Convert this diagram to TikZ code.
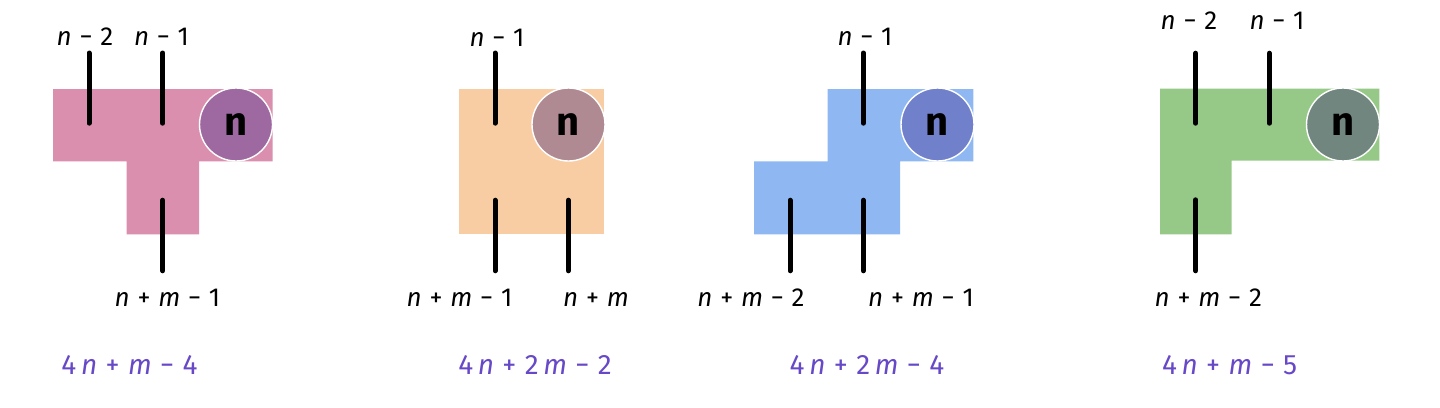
\documentclass[tikz,border=0pt]{standalone}
\usepackage{fontspec}
\setmainfont{Fira Sans}
\usetikzlibrary{positioning}
\definecolor{pinkcell}{RGB}{219,143,174}
\definecolor{pinkdot}{RGB}{158,104,160}
\definecolor{orangecell}{RGB}{248,205,164}
\definecolor{orangedot}{RGB}{176,138,147}
\definecolor{bluecell}{RGB}{143,184,243}
\definecolor{bluedot}{RGB}{112,128,202}
\definecolor{greencell}{RGB}{150,201,135}
\definecolor{greendot}{RGB}{113,134,127}
\definecolor{formula}{RGB}{103,72,199}
\tikzset{
    mycirc/.style = {circle, draw=white, line width=0.7pt, minimum size=36.5pt, inner sep=0pt, font=\bfseries\fontsize{20}{20}\selectfont, text=black},
    mycircp/.style = {mycirc, fill=pinkdot},
    mycirco/.style = {mycirc, fill=orangedot},
    mycircb/.style = {mycirc, fill=bluedot},
    mycircg/.style = {mycirc, fill=greendot},
    edgen/.style = {-, line width=2.5pt, black, line cap=round},
    mylabel/.style = {anchor=base, inner sep=0pt, font=\fontsize{13}{13}\selectfont},
    myformula/.style = {anchor=base, inner sep=0pt, text=formula, font=\fontsize{14}{14}\selectfont}
}
\newcommand{\vn}{\textit{n}}
\newcommand{\vm}{\textit{m}}
\newcommand{\op}[1]{\hspace{0.3em}#1\hspace{0.3em}}

\begin{document}
\begin{tikzpicture}[x=0.5pt, y=-0.5pt]
\path[use as bounding box] (0,0) rectangle (1440,407);
% cells
\fill[pinkcell] (53,89) -- (272.7,89) -- (272.7,161.3) -- (199,161.3) -- (199,234.3) -- (126.7,234.3) -- (126.7,161.3) -- (53,161.3) -- cycle;
\fill[orangecell] (459,89) rectangle (604.3,234.3);
\fill[bluecell] (827.7,89) -- (973.3,89) -- (973.3,161.3) -- (900,161.3) -- (900,234.3) -- (754,234.3) -- (754,161.3) -- (827.7,161.3) -- cycle;
\fill[greencell] (1160,88.5) -- (1379.3,88.5) -- (1379.3,160.7) -- (1231.7,160.7) -- (1231.7,234.3) -- (1160,234.3) -- cycle;
%
\node[mycircp] at (236.0, 124.5) (c1) {n};
\node[mycirco] at (568.5, 124.5) (c2) {n};
\node[mycircb] at (937.5, 124.5) (c3) {n};
\node[mycircg] at (1343.0, 124.5) (c4) {n};
%
\coordinate (a1) at (89.0, 53.0);    \coordinate (a1e) at (89.0, 123.2);
\coordinate (b1) at (162.7, 53.0);   \coordinate (b1e) at (162.7, 123.2);
\coordinate (d1) at (162.7, 200.2);  \coordinate (d1e) at (162.7, 270.8);
\coordinate (a2) at (495.0, 53.0);   \coordinate (a2e) at (495.0, 123.2);
\coordinate (d2) at (495.0, 200.2);  \coordinate (d2e) at (495.0, 270.8);
\coordinate (e2) at (568.3, 200.2);  \coordinate (e2e) at (568.3, 270.8);
\coordinate (a3) at (863.3, 53.0);   \coordinate (a3e) at (863.3, 123.2);
\coordinate (d3) at (790.0, 200.2);  \coordinate (d3e) at (790.0, 270.8);
\coordinate (e3) at (863.3, 200.2);  \coordinate (e3e) at (863.3, 270.8);
\coordinate (a4) at (1195.7, 53.2);  \coordinate (a4e) at (1195.7, 123.2);
\coordinate (b4) at (1269.3, 53.2);  \coordinate (b4e) at (1269.3, 123.2);
\coordinate (d4) at (1195.7, 199.8); \coordinate (d4e) at (1195.7, 270.8);
%
\draw[edgen] (a1) -- (a1e);
\draw[edgen] (b1) -- (b1e);
\draw[edgen] (d1) -- (d1e);
\draw[edgen] (a2) -- (a2e);
\draw[edgen] (d2) -- (d2e);
\draw[edgen] (e2) -- (e2e);
\draw[edgen] (a3) -- (a3e);
\draw[edgen] (d3) -- (d3e);
\draw[edgen] (e3) -- (e3e);
\draw[edgen] (a4) -- (a4e);
\draw[edgen] (b4) -- (b4e);
\draw[edgen] (d4) -- (d4e);
%
\node[mylabel] at (85.0, 46.0) (la1) {\vn\op{−}2};
\node[mylabel] at (161.5, 46.0) (lb1) {\vn\op{−}1};
\node[mylabel] at (167.5, 306.0) (ld1) {\vn\op{+}\vm\op{−}1};
\node[mylabel] at (497.0, 46.5) (la2) {\vn\op{−}1};
\node[mylabel] at (459.5, 306.0) (ld2) {\vn\op{+}\vm\op{−}1};
\node[mylabel] at (596.0, 306.0) (le2) {\vn\op{+}\vm};
\node[mylabel] at (865.0, 46.0) (la3) {\vn\op{−}1};
\node[mylabel] at (751.0, 306.0) (ld3) {\vn\op{+}\vm\op{−}2};
\node[mylabel] at (921.0, 306.0) (le3) {\vn\op{+}\vm\op{−}1};
\node[mylabel] at (1189.0, 29.3) (la4) {\vn\op{−}2};
\node[mylabel] at (1277.0, 29.3) (lb4) {\vn\op{−}1};
\node[mylabel] at (1208.3, 306.0) (ld4) {\vn\op{+}\vm\op{−}2};
%
\node[myformula] at (129.5, 374.5) (f1) {4\,\vn\op{+}\vm\op{−}4};
\node[myformula] at (535.0, 374.5) (f2) {4\,\vn\op{+}2\,\vm\op{−}2};
\node[myformula] at (867.0, 374.5) (f3) {4\,\vn\op{+}2\,\vm\op{−}4};
\node[myformula] at (1229.6, 374.5) (f4) {4\,\vn\op{+}\vm\op{−}5};
\end{tikzpicture}
\end{document}
